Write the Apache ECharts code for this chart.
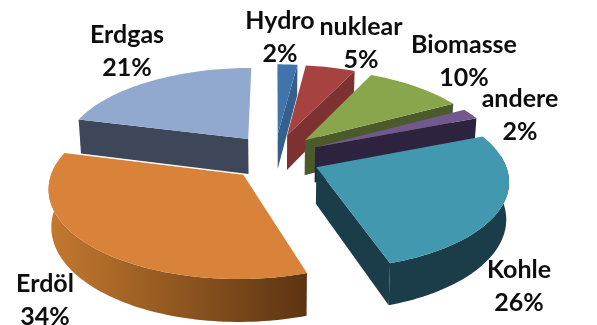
<!DOCTYPE html>
<html>
<head>
<meta charset="utf-8">
<script src="https://cdn.jsdelivr.net/npm/echarts@6/dist/echarts.min.js"></script>
<style>html,body{margin:0;padding:0;background:#fff}#chart{width:597px;height:325px}</style>
</head>
<body>
<div id="chart"></div>
<script>
// Energy mix, clockwise from twelve o'clock
const categories = ['Hydro', 'nuklear', 'Biomasse', 'andere', 'Kohle', 'Erdöl', 'Erdgas'];
const shares = [2, 5, 10, 2, 26, 34, 21];

const topColors = ['#4174ab', '#a64340', '#8aa64d', '#71588f', '#4198af', '#d8823a', '#92a9cf'];
const wallColors = ['#355f8d', '#7d3231', '#4a5a2a', '#2e233f', '#1b3d4a', '#5f3614', '#3d4759'];
const rimColors = [
  '#355f8d', '#7d3231', '#4a5a2a', '#2e233f', '#1b3d4a',
  { type: 'linear', x: 0, y: 0, x2: 1, y2: 0, colorStops: [
    { offset: 0, color: '#c4792f' }, { offset: 1, color: '#5c3412' } ] },
  '#3d4759'
];
// Label centres in pixels, one pair per category
const labelSpots = [[280, 37], [361, 43], [464, 61], [520, 115], [519, 286], [45, 300], [127, 51]];

// Oblique view of the disc with mild perspective
const view = { cx: 275, cy: 157, radius: 187, tilt: 0.455, persp: 0.00072, depth: 36, explode: 45, explodeY: 1.15 };
const total = shares.reduce((a, b) => a + b, 0);

function project(X, Y, drop) {
  const s = 1 / (1 - view.persp * Y);
  const shrink = drop ? 0.988 : 1;
  return [
    view.cx + X * s * shrink,
    view.cy + view.tilt * Y * s + (drop ? view.depth * s : 0)
  ];
}

function renderSlice(params, api) {
  const i = params.dataIndex;
  const before = shares.slice(0, i).reduce((a, b) => a + b, 0);
  const a0 = before / total * 2 * Math.PI;
  const a1 = (before + api.value(0)) / total * 2 * Math.PI;
  const mid = (a0 + a1) / 2;
  const ox = view.explode * Math.sin(mid);
  const oy = -view.explode * view.explodeY * Math.cos(mid);
  const steps = Math.max(6, Math.round((a1 - a0) * 40));
  const arc = [];
  for (let n = 0; n <= steps; n++) {
    const a = a0 + (a1 - a0) * n / steps;
    arc.push([ox + view.radius * Math.sin(a), oy - view.radius * Math.cos(a)]);
  }
  const at = (p, drop) => project(p[0], p[1], drop);
  const apex = [ox, oy];
  const z = Math.round((1 - Math.cos(mid)) * 100);
  const children = [];
  const face = (points, fill, lift) => children.push({
    type: 'polygon',
    z2: z + lift,
    shape: { points },
    style: { fill, stroke: null }
  });
  // walls seen by the viewer: trailing edge on the right half, leading edge on the left
  if (a1 < Math.PI + 1e-6) {
    const e = arc[arc.length - 1];
    face([at(apex), at(e), at(e, true), at(apex, true)], wallColors[i], 0);
  }
  if (a0 > Math.PI * 1.2) {
    const e = arc[0];
    face([at(apex), at(e), at(e, true), at(apex, true)], wallColors[i], 0);
  }
  // rim only where the outer edge turns towards the viewer, then the top face over it
  const rimArc = arc.filter((p, n) => Math.cos(a0 + (a1 - a0) * n / steps) < 0.15);
  if (rimArc.length > 1) {
    const rim = rimArc.map(p => at(p)).concat(rimArc.slice().reverse().map(p => at(p, true)));
    face(rim, rimColors[i], 0.2);
  }
  face([at(apex)].concat(arc.map(p => at(p))), topColors[i], 0.4);
  // label
  children.push({
    type: 'text',
    z2: 1000,
    style: {
      x: labelSpots[i][0],
      y: labelSpots[i][1],
      text: categories[i] + '\n' + api.value(0) + '%',
      fill: '#0d0d0d',
      font: 'bold 25px Lato, sans-serif',
      lineHeight: 33,
      align: 'center',
      verticalAlign: 'middle'
    }
  });
  return { type: 'group', children };
}

const chart = echarts.init(document.getElementById('chart'), null, { renderer: 'canvas' });
chart.setOption({
  animation: false,
  backgroundColor: '#ffffff',
  series: [{
    type: 'custom',
    coordinateSystem: 'none',
    renderItem: renderSlice,
    data: shares.map(v => [v])
  }]
});
</script>
</body>
</html>
